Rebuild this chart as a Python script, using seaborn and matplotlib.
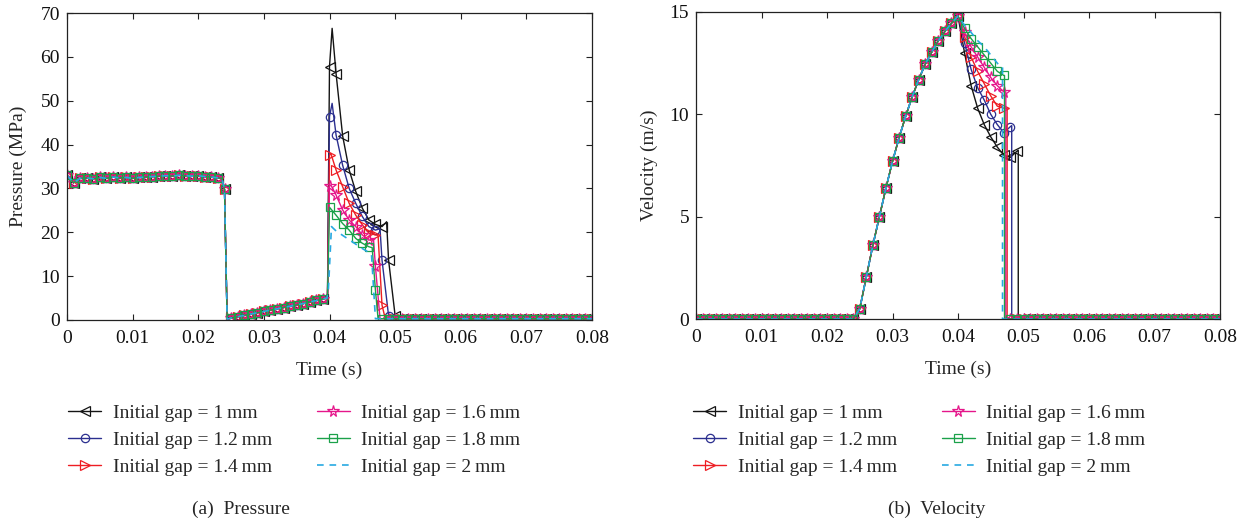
import matplotlib
matplotlib.use("Agg")
import matplotlib.pyplot as plt
import seaborn as sns

# ---------------- data ----------------
gaps = ["1", "1.2", "1.4", "1.6", "1.8", "2"]
x_ticks = [0, 0.01, 0.02, 0.03, 0.04, 0.05, 0.06, 0.07, 0.08]
x_ticklabels = ["0", "0.01", "0.02", "0.03", "0.04", "0.05", "0.06", "0.07", "0.08"]
p_yticks = [0, 10, 20, 30, 40, 50, 60, 70]
v_yticks = [0, 5, 10, 15]

# common pressure history (all gaps) up to 0.0396 s
p_head_t = [0.000, 0.001, 0.002, 0.003, 0.004, 0.005, 0.006, 0.007, 0.008, 0.009,
            0.010, 0.011, 0.012, 0.013, 0.014, 0.015, 0.016, 0.017, 0.018, 0.019,
            0.020, 0.021, 0.022, 0.023, 0.0236, 0.024, 0.0244, 0.025, 0.026, 0.027,
            0.028, 0.029, 0.030, 0.031, 0.032, 0.033, 0.034, 0.035, 0.036, 0.037,
            0.038, 0.039, 0.0396]
p_head = [33.0, 31.3, 32.3, 32.4, 32.2, 32.5, 32.3, 32.6, 32.4, 32.5,
          32.3, 32.5, 32.6, 32.7, 32.8, 32.9, 32.8, 33.0, 32.9, 32.8,
          32.9, 32.7, 32.6, 32.4, 32.3, 29.8, 0.2, 0.45, 0.75, 1.05,
          1.35, 1.65, 1.95, 2.25, 2.55, 2.85, 3.15, 3.45, 3.75, 4.1,
          4.45, 4.8, 5.0]
p_floor = 0.3

# pressure after impact, per gap
p_peak_t = {
    "1":   [0.0397, 0.040, 0.0404, 0.041, 0.042, 0.043, 0.044, 0.045, 0.046, 0.047, 0.048, 0.0487, 0.049, 0.050],
    "1.2": [0.0397, 0.040, 0.0404, 0.041, 0.042, 0.043, 0.044, 0.045, 0.046, 0.047, 0.0477, 0.048, 0.049],
    "1.4": [0.0397, 0.040, 0.0402, 0.041, 0.042, 0.043, 0.044, 0.045, 0.046, 0.047, 0.0474, 0.048, 0.0485],
    "1.6": [0.0397, 0.040, 0.0402, 0.041, 0.042, 0.043, 0.044, 0.045, 0.046, 0.0467, 0.047, 0.0477],
    "1.8": [0.0397, 0.040, 0.041, 0.042, 0.043, 0.044, 0.045, 0.046, 0.0465, 0.047, 0.0474],
    "2":   [0.0398, 0.0403, 0.041, 0.042, 0.043, 0.044, 0.045, 0.046, 0.0464, 0.047],
}
p_peak = {
    "1":   [6.0, 57.8, 66.5, 56.2, 42.0, 34.2, 29.3, 25.5, 22.8, 21.8, 21.3, 22.4, 13.7, 1.0],
    "1.2": [6.0, 46.4, 49.4, 42.2, 35.3, 30.0, 26.6, 23.6, 21.3, 20.5, 20.8, 13.7, 1.0],
    "1.4": [6.0, 37.6, 38.0, 34.2, 30.4, 26.6, 23.9, 21.7, 19.8, 19.4, 19.3, 3.4, 0.3],
    "1.6": [6.0, 30.5, 30.8, 28.5, 25.1, 22.8, 21.3, 19.4, 18.2, 18.5, 12.2, 0.3],
    "1.8": [6.0, 25.7, 23.9, 22.0, 20.5, 18.6, 17.5, 16.7, 16.5, 6.8, 0.3],
    "2":   [6.0, 21.3, 20.3, 19.3, 18.3, 17.3, 16.3, 15.4, 15.0, 0.3],
}

# common velocity history up to the peak at 0.040 s
v_head_t = [0.000, 0.001, 0.002, 0.003, 0.004, 0.005, 0.006, 0.007, 0.008, 0.009,
            0.010, 0.011, 0.012, 0.013, 0.014, 0.015, 0.016, 0.017, 0.018, 0.019,
            0.020, 0.021, 0.022, 0.023, 0.024, 0.025, 0.026, 0.027, 0.028, 0.029,
            0.030, 0.031, 0.032, 0.033, 0.034, 0.035, 0.036, 0.037, 0.038, 0.039, 0.040]
v_head = [0, 0, 0, 0, 0, 0, 0, 0, 0, 0,
          0, 0, 0, 0, 0, 0, 0, 0, 0, 0,
          0, 0, 0, 0, 0, 0.5, 2.05, 3.6, 5.0, 6.4,
          7.7, 8.85, 9.9, 10.85, 11.7, 12.45, 13.05, 13.6, 14.05, 14.45, 14.8]
v_floor = 0.0

v_dec_t = {
    "1":   [0.041, 0.042, 0.043, 0.044, 0.045, 0.046, 0.047, 0.048, 0.049, 0.0492, 0.0492],
    "1.2": [0.041, 0.042, 0.043, 0.044, 0.045, 0.046, 0.047, 0.048, 0.0482, 0.0482],
    "1.4": [0.041, 0.042, 0.043, 0.044, 0.045, 0.046, 0.047, 0.0475, 0.0475],
    "1.6": [0.041, 0.042, 0.043, 0.044, 0.045, 0.046, 0.047, 0.0473, 0.0473],
    "1.8": [0.041, 0.042, 0.043, 0.044, 0.045, 0.046, 0.047, 0.0471, 0.0471],
    "2":   [0.041, 0.042, 0.043, 0.044, 0.045, 0.046, 0.0466, 0.0468, 0.0468],
}
v_dec = {
    "1":   [13.0, 11.4, 10.3, 9.5, 8.9, 8.4, 8.0, 7.9, 8.2, 8.25, 0.0],
    "1.2": [13.5, 12.2, 11.3, 10.7, 10.0, 9.5, 9.1, 9.4, 9.45, 0.0],
    "1.4": [13.8, 12.8, 12.1, 11.5, 10.9, 10.4, 10.3, 10.3, 0.0],
    "1.6": [14.0, 13.3, 12.8, 12.3, 11.8, 11.4, 11.1, 11.1, 0.0],
    "1.8": [14.2, 13.7, 13.3, 12.9, 12.5, 12.1, 11.9, 11.9, 0.0],
    "2":   [14.35, 14.0, 13.6, 13.3, 12.9, 12.5, 12.3, 12.3, 0.0],
}

# ---------------- style ----------------
FS = 14
colors = {"1": "#141414", "1.2": "#2b2f8f", "1.4": "#ee1d23",
          "1.6": "#e5168a", "1.8": "#1ba14a", "2": "#27a9e1"}
markers = {"1": "<", "1.2": "o", "1.4": ">", "1.6": "*", "1.8": "s", "2": None}
msizes = {"1": 6.5, "1.2": 6.0, "1.4": 6.5, "1.6": 8.5, "1.8": 5.5, "2": 0}

sns.set_theme(style="ticks")
plt.rcParams["font.family"] = ["Liberation Serif", "DejaVu Serif"]
plt.rcParams["font.size"] = FS

fig = plt.figure(figsize=(12.44, 5.25), dpi=100)
ax1 = fig.add_axes([67 / 1244, 1 - 320 / 525, 525 / 1244, 307 / 525])
ax2 = fig.add_axes([696 / 1244, 1 - 319 / 525, 524 / 1244, 307 / 525])


def full_series(head_t, head, t2, y2, floor):
    ts = list(head_t) + list(t2)
    ys = list(head) + list(y2)
    last = ts[-1]
    k = int(round(last * 1000)) + 1
    while k <= 80:
        ts.append(k / 1000)
        ys.append(floor)
        k += 1
    return ts, ys


def on_grid(ts):
    return [i for i, t in enumerate(ts) if abs(t * 1000 - round(t * 1000)) < 1e-6]


for ax, kind in [(ax1, "p"), (ax2, "v")]:
    for g in gaps:
        if kind == "p":
            ts, ys = full_series(p_head_t, p_head, p_peak_t[g], p_peak[g], p_floor)
        else:
            ts, ys = full_series(v_head_t, v_head, v_dec_t[g], v_dec[g], v_floor)
        c = colors[g]
        kw = dict(x=ts, y=ys, ax=ax, estimator=None, sort=False, color=c,
                  linewidth=1.0, legend=False,
                  label=f"Initial gap = {g}\u2009mm")
        if markers[g] is None:
            kw.update(linestyle=(0, (4, 3.5)), linewidth=1.2)
        else:
            kw.update(marker=markers[g], markersize=msizes[g], markevery=on_grid(ts),
                      markerfacecolor="none", markeredgecolor=c, markeredgewidth=0.9)
        sns.lineplot(**kw)

for ax in (ax1, ax2):
    ax.set_xlim(0, 0.08)
    ax.set_xticks(x_ticks)
    ax.set_xticklabels(x_ticklabels)
    ax.tick_params(direction="in", top=True, right=True, length=4, width=0.8,
                   labelsize=FS, colors="#222222", labelcolor="#111111")
    ax.tick_params(axis="x", pad=7)
    ax.tick_params(axis="y", pad=5)
    for s in ax.spines.values():
        s.set_linewidth(0.9)
        s.set_color("#222222")
    ax.set_xlabel("Time (s)", fontsize=FS, labelpad=11)

ax1.set_ylim(0, 70)
ax1.set_yticks(p_yticks)
ax1.set_ylabel("Pressure (MPa)", fontsize=FS, labelpad=10)
ax2.set_ylim(0, 15)
ax2.set_yticks(v_yticks)
ax2.set_ylabel("Velocity (m/s)", fontsize=FS, labelpad=8)

handles, labels = ax1.get_legend_handles_labels()
h2, l2 = ax2.get_legend_handles_labels()
common = dict(loc="upper left", ncol=2, frameon=False, fontsize=FS,
              handlelength=1.7, handletextpad=0.6, columnspacing=2.3,
              labelspacing=0.5, borderpad=0, borderaxespad=0)
fig.legend(handles, labels, bbox_to_anchor=(68 / 1244, 1 - 404 / 525), **common)
fig.legend(h2, l2, bbox_to_anchor=(693 / 1244, 1 - 404 / 525), **common)

fig.text(241 / 1244, 1 - 509 / 525, "(a)  Pressure", ha="center", va="center", fontsize=FS)
fig.text(937 / 1244, 1 - 509 / 525, "(b)  Velocity", ha="center", va="center", fontsize=FS)

fig.savefig("out.png", dpi=100)
